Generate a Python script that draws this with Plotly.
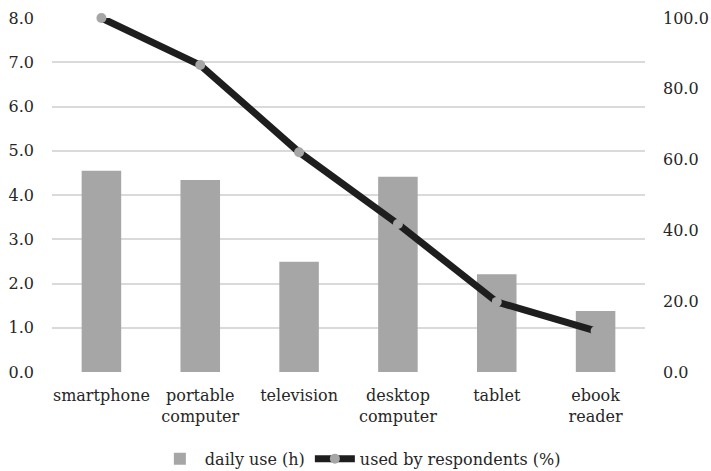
import plotly.graph_objects as go

# Device categories (two-line labels where the original wraps)
categories = ["smartphone", "portable<br>computer", "television",
              "desktop<br>computer", "tablet", "ebook<br>reader"]
# Average daily use in hours (left axis)
daily_use_h = [4.55, 4.34, 2.49, 4.41, 2.21, 1.38]
# Share of respondents using the device, in percent (right axis)
used_pct = [100.0, 86.7, 62.1, 41.8, 19.8, 11.6]

FONT = "DejaVu Serif"
FS = 16

fig = go.Figure()
fig.add_trace(go.Bar(
    x=categories, y=daily_use_h, name="daily use (h)",
    marker=dict(color="#a6a6a6", line=dict(width=0)),
    yaxis="y",
))
fig.add_trace(go.Scatter(
    x=categories, y=used_pct, name="used by respondents (%)",
    mode="lines+markers",
    line=dict(color="#1e1e1e", width=7),
    marker=dict(color="#a6a6a6", size=10),
    cliponaxis=False,
    yaxis="y2",
))

fig.update_layout(
    width=711, height=471,
    margin=dict(l=52, r=66, t=18, b=99, autoexpand=False),
    paper_bgcolor="white", plot_bgcolor="white",
    font=dict(family=FONT, size=FS, color="#262626"),
    bargap=0.6,
    showlegend=True,
    legend=dict(orientation="h", x=0.52, xanchor="center", y=-0.245,
                yanchor="middle", font=dict(family=FONT, size=FS),
                traceorder="normal", itemwidth=40),
    xaxis=dict(showgrid=False, showline=False, ticks="",
               tickfont=dict(family=FONT, size=FS),
               ticklabelstandoff=12),
    yaxis=dict(range=[0, 8], dtick=1, tickformat=".1f",
               tickfont=dict(family=FONT, size=FS),
               showgrid=True, gridcolor="#dadada", gridwidth=1.5,
               zeroline=False, showline=False, ticks="",
               ticklabelstandoff=17),
    yaxis2=dict(range=[0, 100], dtick=20, tickformat=".1f",
                tickfont=dict(family=FONT, size=FS),
                overlaying="y", side="right", showgrid=False,
                zeroline=False, showline=False, ticks="",
                ticklabelstandoff=17),
)

fig.write_html("out.html")
